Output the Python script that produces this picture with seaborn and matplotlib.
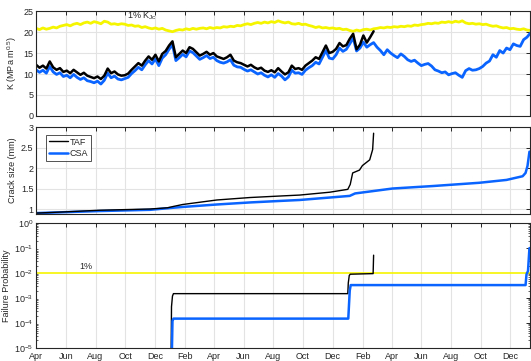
import matplotlib
matplotlib.use("Agg")
import matplotlib.pyplot as plt
import matplotlib.dates as mdates
import matplotlib.ticker as mticker
import numpy as np
import pandas as pd
import seaborn as sns

# ---------------------------------------------------------------- data
start = pd.Timestamp("2016-04-01")
end = pd.Timestamp("2019-01-10")
weeks = pd.date_range(start, periods=146, freq="7D")

# 1% K_Jc fracture toughness (MPa m^0.5), weekly
k_jc_1pct = [
    20.9, 20.6, 21.0, 20.7, 20.9, 21.2, 21.0, 21.4, 21.6, 21.8,
    21.5, 21.9, 22.1, 21.8, 22.2, 22.4, 22.1, 22.5, 22.3, 22.0,
    22.6, 22.4, 21.9, 22.0, 21.8, 22.0, 21.9, 21.6, 21.7, 21.4,
    21.5, 21.1, 21.3, 21.0, 20.8, 21.0, 20.7, 20.9, 20.5, 20.3,
    20.1, 20.4, 20.6, 20.5, 20.8, 20.6, 20.9, 20.7, 20.9, 21.0,
    20.8, 21.1, 20.9, 21.1, 21.0, 21.3, 21.2, 21.4, 21.3, 21.6,
    21.5, 21.8, 22.0, 21.8, 22.1, 22.3, 22.1, 22.4, 22.2, 22.5,
    22.3, 22.7, 22.4, 22.2, 22.4, 22.0, 21.9, 22.1, 21.8, 21.9,
    21.6, 21.4, 21.1, 21.3, 21.0, 21.1, 20.9, 21.0, 20.8, 20.9,
    20.6, 20.7, 20.4, 20.2, 20.5, 20.3, 20.6, 20.7, 20.5, 20.8,
    20.9, 21.1, 21.0, 21.2, 21.1, 21.3, 21.2, 21.4, 21.3, 21.5,
    21.4, 21.7, 21.6, 21.8, 21.9, 22.1, 22.0, 22.2, 22.1, 22.4,
    22.3, 22.5, 22.3, 22.6, 22.4, 22.7, 22.2, 22.0, 22.1, 21.9,
    22.0, 21.8, 21.9, 21.6, 21.4, 21.5, 21.2, 21.0, 21.1, 20.8,
    20.9, 20.7, 20.6, 20.8, 20.5, 20.4,
]

# applied K, TAF model (weekly, until failure)
k_taf = [
    12.2, 11.5, 12.0, 11.3, 13.0, 11.6, 11.0, 11.4, 10.5, 10.8,
    10.2, 11.0, 10.4, 9.8, 10.3, 9.6, 9.3, 9.0, 9.4, 8.8,
    9.6, 11.3, 10.2, 10.6, 9.9, 9.6, 9.7, 10.1, 11.0, 11.8,
    12.6, 12.0, 13.2, 14.2, 13.4, 14.6, 13.0, 14.8, 15.5, 16.8,
    17.8, 14.0, 14.8, 15.6, 15.0, 16.4, 16.0, 15.2, 14.4, 14.8,
    15.3, 14.6, 15.0, 14.2, 13.9, 13.6, 14.0, 14.6, 13.2, 12.8,
    12.6, 12.2, 11.8, 12.2, 11.6, 11.2, 11.5, 10.8, 10.5, 10.9,
    10.4, 11.4, 10.6, 9.9, 10.4, 12.0, 11.2, 11.4, 11.0, 12.0,
    12.6, 13.2, 14.0, 13.6, 15.2, 16.8, 15.0, 15.3, 16.0, 17.4,
    16.6, 16.9, 18.4, 19.6, 15.9, 17.0, 19.2, 17.5, 18.8, 20.2,
]

# applied K, CSA model (weekly)
k_csa = [
    11.0, 10.4, 10.9, 10.2, 11.8, 10.5, 9.9, 10.3, 9.4, 9.7,
    9.1, 9.9, 9.2, 8.7, 9.1, 8.4, 8.2, 7.9, 8.3, 7.6,
    8.5, 10.2, 9.1, 9.5, 8.8, 8.6, 8.9, 9.2, 10.1, 10.8,
    11.6, 11.0, 12.2, 13.2, 12.4, 13.6, 12.0, 13.8, 14.6, 15.9,
    17.0, 13.2, 13.9, 14.7, 14.1, 15.5, 15.1, 14.3, 13.5, 13.9,
    14.4, 13.7, 14.0, 13.2, 12.8, 12.6, 12.9, 13.4, 12.1, 11.7,
    11.6, 11.1, 10.7, 11.0, 10.5, 10.0, 10.3, 9.7, 9.3, 9.8,
    9.2, 10.1, 9.5, 8.6, 9.3, 10.9, 10.2, 10.3, 9.9, 10.9,
    11.5, 12.0, 12.8, 12.4, 14.0, 15.6, 13.8, 13.6, 14.6, 16.2,
    15.4, 15.9, 17.2, 18.6, 15.5, 16.2, 17.6, 16.4, 17.0, 17.5,
    16.4, 15.6, 14.6, 15.8, 15.0, 14.4, 13.9, 14.8, 14.2, 13.4,
    13.0, 13.3, 12.6, 12.0, 12.3, 12.5, 11.9, 11.0, 10.7, 10.3,
    10.5, 9.8, 10.1, 10.3, 9.7, 9.2, 10.8, 11.3, 10.9, 11.0,
    11.3, 11.8, 12.6, 13.1, 14.6, 14.0, 15.6, 15.0, 16.2, 15.8,
    17.2, 16.8, 16.6, 18.2, 18.8, 19.8,
]

# crack size (mm) against days since start
crack_taf_days = [0, 60, 131, 200, 234, 270, 281, 301, 371, 439, 506, 541,
                  603, 640, 645, 650, 664, 670, 685, 691, 693]
crack_taf_mm = [0.90, 0.93, 0.97, 0.99, 1.00, 1.03, 1.06, 1.11, 1.22, 1.28,
                1.32, 1.34, 1.41, 1.48, 1.60, 1.88, 1.95, 2.06, 2.20, 2.45, 2.85]
crack_csa_days = [0, 131, 234, 281, 301, 371, 439, 506, 541, 644, 655, 732,
                  814, 910, 966, 999, 1005, 1009, 1013]
crack_csa_mm = [0.90, 0.95, 0.98, 1.03, 1.05, 1.11, 1.16, 1.20, 1.22, 1.32,
                1.38, 1.50, 1.56, 1.64, 1.71, 1.80, 1.88, 2.05, 2.40]

# cumulative failure probability against days since start
pf_taf_days = [277, 278, 280, 282, 640, 641, 643, 645, 692, 693]
pf_taf = [1e-6, 4.5e-4, 1.2e-3, 1.5e-3, 1.5e-3, 4e-3, 8e-3, 9e-3, 9.5e-3, 5.2e-2]
pf_csa_days = [278, 280, 282, 641, 644, 646, 1005, 1007, 1010, 1013]
pf_csa = [1e-6, 1.2e-4, 1.5e-4, 1.5e-4, 2e-3, 3.3e-3, 3.3e-3, 9e-3, 1.2e-2, 0.1]
pf_limit = 0.01

# ---------------------------------------------------------------- style
sns.set_theme(style="white")
plt.rcParams["font.family"] = ["Liberation Sans", "DejaVu Sans"]
plt.rcParams["mathtext.fontset"] = "custom"
plt.rcParams["mathtext.rm"] = "Liberation Sans"
plt.rcParams["mathtext.it"] = "Liberation Sans"

TAF_C = "#000000"
CSA_C = "#0a64ff"
LIM_C = "#f5f500"
FRAME = "#262626"
GRID = "#e3e3e3"
FS = 6.5


def days_to_dates(d):
    return start + pd.to_timedelta(d, unit="D")


fig = plt.figure(figsize=(5.31, 3.61), dpi=100)
left, width = 0.068, 0.930
ax1 = fig.add_axes([left, 0.679, width, 0.290])
ax2 = fig.add_axes([left, 0.408, width, 0.240])
ax3 = fig.add_axes([left, 0.036, width, 0.346])

# top: stress intensity
sns.lineplot(x=weeks, y=k_jc_1pct, color=LIM_C, lw=2.0, ax=ax1)
sns.lineplot(x=weeks, y=k_csa, color=CSA_C, lw=2.0, ax=ax1)
sns.lineplot(x=weeks[:len(k_taf)], y=k_taf, color=TAF_C, lw=1.8, ax=ax1)
ax1.set_ylim(0, 25)
ax1.set_yticks([0, 5, 10, 15, 20, 25])
ax1.set_ylabel("K (MPa m$^{0.5}$)", fontsize=FS, color=FRAME, labelpad=3)
ax1.text(pd.Timestamp("2016-10-04"), 23.9, "1% K$_{Jc}$", fontsize=FS,
         color=FRAME, va="center", ha="left")

# middle: crack size
sns.lineplot(x=days_to_dates(crack_csa_days), y=crack_csa_mm, color=CSA_C,
             lw=1.8, ax=ax2, label="CSA")
sns.lineplot(x=days_to_dates(crack_taf_days), y=crack_taf_mm, color=TAF_C,
             lw=1.0, ax=ax2, label="TAF")
ax2.set_ylim(0.885, 3)
ax2.set_yticks([1, 1.5, 2, 2.5, 3])
ax2.yaxis.set_major_formatter(mticker.FormatStrFormatter("%g"))
ax2.set_ylabel("Crack size (mm)", fontsize=FS, color=FRAME, labelpad=3)
h, l = ax2.get_legend_handles_labels()
leg = ax2.legend(h[::-1], l[::-1], loc="upper left",
                 bbox_to_anchor=(0.02, 0.91), fontsize=FS, frameon=True,
                 fancybox=False, edgecolor=FRAME, handlelength=2.1,
                 borderpad=0.3, labelspacing=0.25, handletextpad=0.2,
                 borderaxespad=0.0)
leg.get_frame().set_linewidth(0.7)

# bottom: failure probability
ax3.set_yscale("log")
ax3.axhline(pf_limit, color=LIM_C, lw=1.2)
sns.lineplot(x=days_to_dates(pf_taf_days), y=pf_taf, color=TAF_C, lw=1.0,
             ax=ax3)
sns.lineplot(x=days_to_dates(pf_csa_days), y=pf_csa, color=CSA_C, lw=1.8,
             ax=ax3)
ax3.set_ylim(1e-5, 1)
ax3.yaxis.set_major_locator(mticker.LogLocator(base=10, numticks=10))
ax3.yaxis.set_minor_locator(mticker.LogLocator(base=10, subs=np.arange(2, 10),
                                               numticks=20))
ax3.yaxis.set_minor_formatter(mticker.NullFormatter())
ax3.set_ylabel("Failure Probability", fontsize=FS, color=FRAME, labelpad=2)
ax3.text(pd.Timestamp("2016-06-28"), 1.75e-2, "1%", fontsize=FS, color=FRAME,
         va="center", ha="left")

# shared date axis styling
for ax in (ax1, ax2, ax3):
    ax.set_xlim(start, end)
    ax.xaxis.set_major_locator(mdates.MonthLocator(bymonth=[2, 4, 6, 8, 10, 12]))
    ax.xaxis.set_major_formatter(mdates.DateFormatter("%b"))
    ax.grid(True, axis="x", color=GRID, lw=0.8)
    ax.tick_params(axis="both", which="major", direction="in", length=3,
                   width=0.7, top=True, right=True, labelsize=FS,
                   colors=FRAME, pad=2)
    ax.tick_params(axis="y", which="minor", direction="in", length=1.6,
                   width=0.5, left=True, right=True, colors=FRAME)
    for sp in ax.spines.values():
        sp.set_color(FRAME)
        sp.set_linewidth(0.8)
    ax.set_xlabel("")
ax3.tick_params(axis="x", which="major", pad=3)
for ax in (ax1, ax2):
    ax.grid(True, axis="y", color=GRID, lw=0.8)
    ax.tick_params(axis="x", labelbottom=False)
    if ax.get_legend() is not None and ax is not ax2:
        ax.get_legend().remove()

fig.savefig("out.png", dpi=100)
